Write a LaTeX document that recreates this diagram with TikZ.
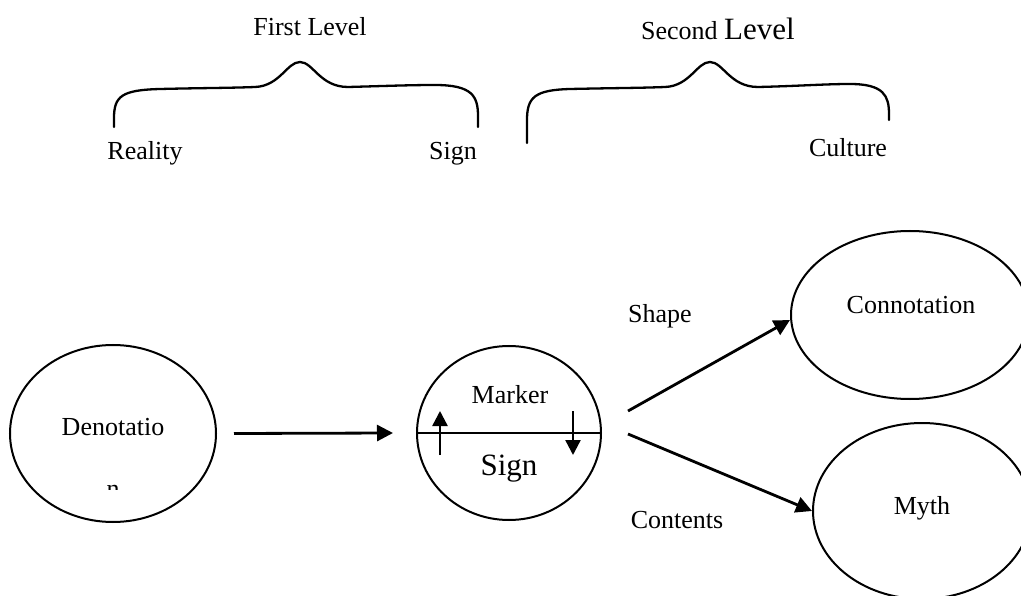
\documentclass[tikz,border=0pt]{standalone}
\usepackage{fontspec}
\setmainfont{Liberation Serif}
\usetikzlibrary{shapes.geometric,arrows.meta}
\begin{document}
\begin{tikzpicture}[x=1pt,y=-1pt,
  txt/.style={anchor=base,inner sep=0pt,font=\fontsize{26}{30}\selectfont},
  bigtxt/.style={anchor=base,inner sep=0pt,font=\fontsize{31}{36}\selectfont},
  oval/.style={draw,ellipse,line width=2pt,inner sep=0pt},
  arr/.style={line width=2.8pt,-{Triangle[length=16pt,width=16pt]}},
  smallarr/.style={line width=2.4pt,-{Triangle[length=15pt,width=15pt]}},
  brace/.style={line width=2.3pt,line cap=round}]
\useasboundingbox (0,0) rectangle (1021,596);
\clip (0,0) rectangle (1021,596);

% braces
\draw[brace] (114,127) -- (114,118) .. controls (114,96) and (122,90) .. (160,89)
  .. controls (200,88) and (230,88) .. (255,87)
  .. controls (280,86) and (287,62) .. (300,62)
  .. controls (313,62) and (320,87) .. (348,87)
  .. controls (385,86) and (410,85) .. (435,85)
  .. controls (472,85) and (478,96) .. (478,116) -- (478,127);
\draw[brace] (527,143) -- (527,120) .. controls (527,97) and (535,90) .. (570,89)
  .. controls (615,88) and (640,88) .. (665,87)
  .. controls (690,86) and (697,62) .. (710,62)
  .. controls (723,62) and (730,87) .. (758,87)
  .. controls (800,86) and (825,84) .. (850,84)
  .. controls (884,84) and (889,96) .. (889,114) -- (889,120);

% top labels
\node[txt] (fl) at (310,36) {First Level};
\node[txt] (sl) at (718,40) {Second {\fontsize{31}{36}\selectfont Level}};
\node[txt] (re) at (145,160) {Reality};
\node[txt] (sg1) at (453,160) {Sign};
\node[txt] (cu) at (848,157) {Culture};

% ovals
\node[oval,minimum width=206pt,minimum height=177pt] (den) at (113,433.5) {};
\node[oval,minimum width=184pt,minimum height=174pt] (mk) at (509,433) {};
\node[oval,minimum width=238pt,minimum height=168pt] (con) at (910,315) {};
\node[oval,minimum width=218pt,minimum height=176pt] (myth) at (922,511) {};

\draw[line width=2.2pt] (mk.west) -- (mk.east);

% texts in ovals
\node[txt] (dt) at (113,435) {Denotatio};
\begin{scope}
  \clip (100,483) rectangle (126,489);
  \node[txt] (dn) at (113,497) {n};
\end{scope}
\node[txt] (mkt) at (510,403) {Marker};
\node[bigtxt] (sg) at (509,475) {Sign};
\node[txt] (cn) at (911,313) {Connotation};
\node[txt] (my) at (922,514) {Myth};

% edge labels
\node[txt] (sh) at (660,323) {Shape};
\node[txt] (ct) at (677,528) {Contents};

% inner arrows
\coordinate (ua1) at (440,455);
\coordinate (ua2) at (440,411);
\coordinate (da1) at (573,411);
\coordinate (da2) at (573,455);
\draw[smallarr] (ua1) -- (ua2);
\draw[smallarr] (da1) -- (da2);

% connectors
\draw[arr] ([xshift=17pt]den.east) -- ([xshift=-23pt]mk.west);
\coordinate (a1) at (628,411);
\coordinate (a2) at (628,434);
\draw[arr] (a1) -- ([yshift=-5pt]con.west);
\draw[arr] (a2) -- (myth.west);
\end{tikzpicture}
\end{document}
